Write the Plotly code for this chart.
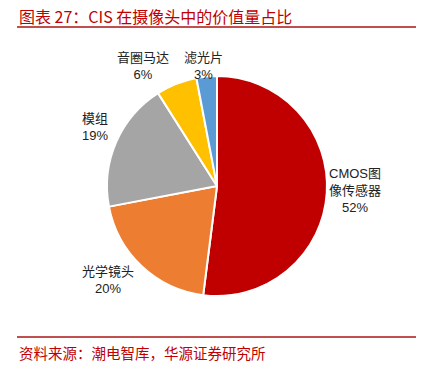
import plotly.graph_objects as go

labels = ["CMOS图<br>像传感器", "光学镜头", "模组", "音圈马达", "滤光片"]
values = [52, 20, 19, 6, 3]
colors = ["#C00000", "#ED7D31", "#A5A5A5", "#FFC000", "#5B9BD5"]

W, H = 431, 365
cx, cy, r = 217, 186, 110

# label centre positions (pixels from top-left), layout only
label_pos = [(355, 190), (108, 280), (95, 127), (143, 66), (203, 66)]

fig = go.Figure(go.Pie(
    labels=labels, values=values, sort=False, direction="clockwise", rotation=0,
    marker=dict(colors=colors, line=dict(color="white", width=2)),
    textinfo="none", hoverinfo="skip", showlegend=False,
    domain=dict(x=[(cx - r) / W, (cx + r) / W], y=[(H - cy - r) / H, (H - cy + r) / H]),
))

red = "#C0504D"
annotations = [
    dict(text="图表 27：CIS 在摄像头中的价值量占比", xref="paper", yref="paper", x=17 / W, y=1 - 16 / H,
         xanchor="left", yanchor="middle", showarrow=False,
         font=dict(size=16, color="#C00000", family="Noto Sans CJK SC")),
    dict(text="资料来源：潮电智库，华源证券研究所", xref="paper", yref="paper", x=17 / W, y=1 - 352 / H,
         xanchor="left", yanchor="middle", showarrow=False,
         font=dict(size=14.5, color="#C00000", family="Noto Sans CJK SC")),
]
for lab, v, (px, py) in zip(labels, values, label_pos):
    annotations.append(dict(
        text=f"{lab}<br>{v}%", xref="paper", yref="paper", x=px / W, y=1 - py / H,
        xanchor="center", yanchor="middle", showarrow=False, align="center",
        font=dict(size=13, color="#222222", family="Liberation Sans, Noto Sans CJK SC"),
    ))

fig.update_layout(
    width=W, height=H, margin=dict(l=0, r=0, t=0, b=0),
    paper_bgcolor="white", plot_bgcolor="white",
    font=dict(family="Noto Sans CJK SC"),
    shapes=[
        dict(type="line", xref="paper", yref="paper", x0=17 / W, x1=416 / W, y0=1 - 27 / H, y1=1 - 27 / H,
             line=dict(color=red, width=2)),
        dict(type="line", xref="paper", yref="paper", x0=17 / W, x1=416 / W, y0=1 - 337 / H, y1=1 - 337 / H,
             line=dict(color=red, width=2)),
    ],
    annotations=annotations,
)
fig.write_html("out.html", config={"displayModeBar": False},
               post_script="document.body.style.margin='0';document.body.style.overflow='hidden';")
